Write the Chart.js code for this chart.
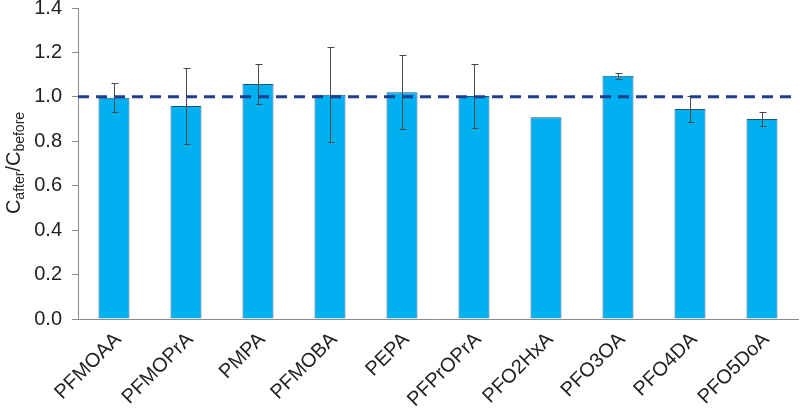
<!DOCTYPE html>
<html>
<head>
<meta charset="utf-8">
<script src="https://cdn.jsdelivr.net/npm/chart.js@4"></script>
<style>
html,body{margin:0;padding:0;background:#fff;}
#wrap{width:800px;height:408px;position:relative;}
</style>
</head>
<body>
<div id="wrap"><canvas id="c" width="800" height="408"></canvas></div>
<script>
const categories = ["PFMOAA","PFMOPrA","PMPA","PFMOBA","PEPA","PFPrOPrA","PFO2HxA","PFO3OA","PFO4DA","PFO5DoA"];
const ratios = [0.996, 0.959, 1.058, 1.009, 1.021, 1.004, 0.908, 1.095, 0.945, 0.900];
const errors = [0.066, 0.172, 0.088, 0.214, 0.166, 0.142, 0, 0.013, 0.060, 0.031];
const yMin = 0, yMax = 1.4, yStep = 0.2;
const referenceLevel = 1.0;

const FONT = "'Liberation Sans', Arial, sans-serif";

const errorBarPlugin = {
  id: 'errorBars',
  afterDatasetsDraw(chart) {
    const meta = chart.getDatasetMeta(0);
    const y = chart.scales.y;
    const ctx = chart.ctx;
    ctx.save();
    ctx.strokeStyle = '#4a4a4a';
    ctx.lineWidth = 1;
    meta.data.forEach((bar, i) => {
      const e = errors[i];
      if (!e) return;
      const x = Math.round(bar.x) + 0.5;
      const yt = Math.round(y.getPixelForValue(ratios[i] + e)) + 0.5;
      const yb = Math.round(y.getPixelForValue(ratios[i] - e)) + 0.5;
      ctx.beginPath();
      ctx.moveTo(x, yt); ctx.lineTo(x, yb);
      ctx.moveTo(x - 3, yt); ctx.lineTo(x + 4, yt);
      ctx.moveTo(x - 3, yb); ctx.lineTo(x + 4, yb);
      ctx.stroke();
    });
    const area = chart.chartArea;
    const yr = y.getPixelForValue(referenceLevel);
    ctx.strokeStyle = '#1f3d8f';
    ctx.lineWidth = 3;
    ctx.setLineDash([11, 7]);
    ctx.beginPath();
    ctx.moveTo(area.left, yr);
    ctx.lineTo(area.right, yr);
    ctx.stroke();
    ctx.restore();
  }
};

const yTitlePlugin = {
  id: 'yTitle',
  afterDraw(chart) {
    const ctx = chart.ctx;
    const parts = [
      {t: 'C', size: 20, dy: 0},
      {t: 'after', size: 14, dy: 4},
      {t: '/C', size: 20, dy: 0},
      {t: 'before', size: 14, dy: 4}
    ];
    ctx.save();
    let total = 0;
    parts.forEach(p => { ctx.font = p.size + 'px ' + FONT; p.w = ctx.measureText(p.t).width; total += p.w; });
    const cx = 13, cy = 163;
    ctx.translate(cx, cy);
    ctx.rotate(-Math.PI / 2);
    ctx.fillStyle = '#222';
    ctx.textBaseline = 'alphabetic';
    let x = -total / 2;
    parts.forEach(p => {
      ctx.font = p.size + 'px ' + FONT;
      ctx.fillText(p.t, x, 7 + p.dy);
      x += p.w;
    });
    ctx.restore();
  }
};

new Chart(document.getElementById('c'), {
  type: 'bar',
  data: {
    labels: categories,
    datasets: [{
      data: ratios,
      backgroundColor: '#00b0f0',
      borderColor: '#1f5578',
      borderWidth: 1,
      barPercentage: 0.43,
      categoryPercentage: 1.0
    }]
  },
  options: {
    responsive: false,
    animation: false,
    devicePixelRatio: 1,
    layout: {padding: {top: 8, right: 2, left: 0, bottom: 0}},
    plugins: {legend: {display: false}, tooltip: {enabled: false}},
    scales: {
      x: {
        grid: {display: false, drawTicks: false},
        border: {display: true, color: '#8a8a8a', width: 1},
        ticks: {
          color: '#222',
          font: {family: FONT, size: 20},
          minRotation: 45, maxRotation: 45,
          padding: 9,
          labelOffset: 4,
          autoSkip: false
        },
        afterFit(s) { s.height = 89; s.paddingLeft = 0; s.paddingRight = 0; }
      },
      y: {
        min: yMin, max: yMax,
        grid: {display: true, drawOnChartArea: false, drawTicks: true, tickLength: 6, color: '#8a8a8a'},
        border: {display: true, color: '#8a8a8a', width: 1},
        ticks: {
          stepSize: yStep,
          color: '#222',
          font: {family: FONT, size: 20},
          padding: 10,
          callback: v => Number(v).toFixed(1)
        },
        afterFit(s) { s.width = 78; s.paddingTop = 0; s.paddingBottom = 0; }
      }
    }
  },
  plugins: [errorBarPlugin, yTitlePlugin]
});
</script>
</body>
</html>
